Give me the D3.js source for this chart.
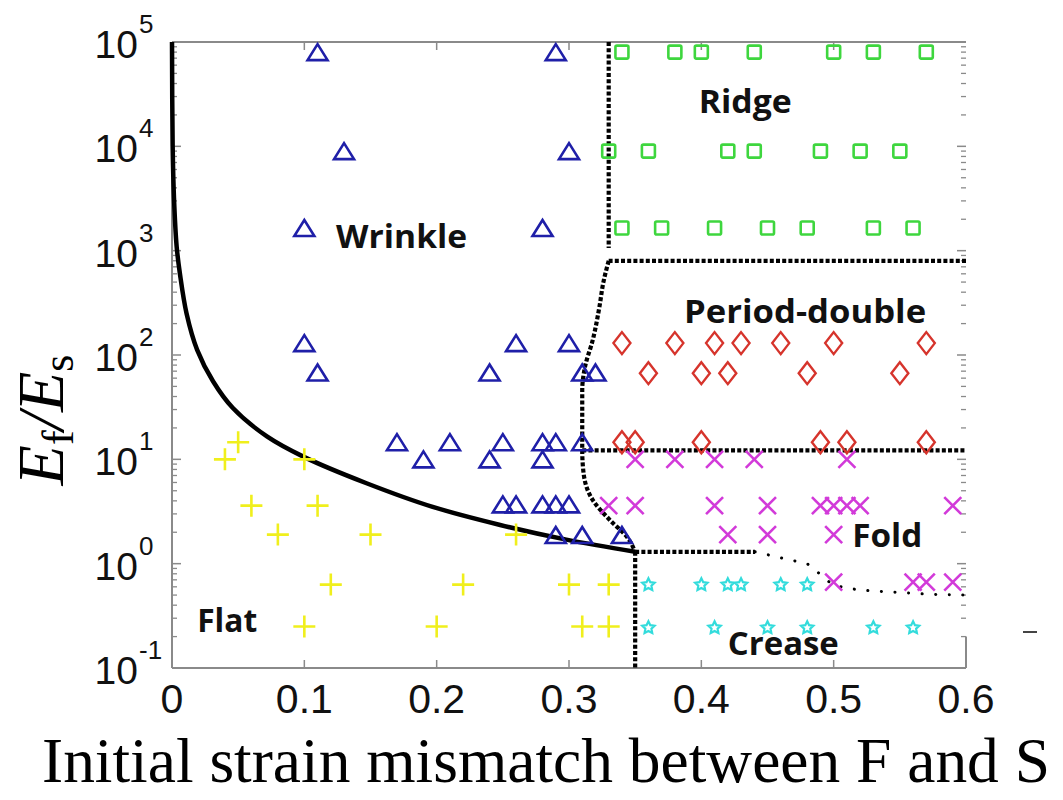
<!DOCTYPE html>
<html>
<head>
<meta charset="utf-8">
<script src="https://cdn.jsdelivr.net/npm/d3@7"></script>
<style>
  html, body { margin: 0; padding: 0; background: #fff; }
  svg { display: block; }
</style>
</head>
<body>
<script>
// ---------------- DATA ----------------
const xTicks = [0, 0.1, 0.2, 0.3, 0.4, 0.5, 0.6];
const xTickLabels = ["0", "0.1", "0.2", "0.3", "0.4", "0.5", "0.6"];
const yTicks = [1e-1, 1e0, 1e1, 1e2, 1e3, 1e4, 1e5];
const yTickExponents = ["-1", "0", "1", "2", "3", "4", "5"];

const xTitle = "Initial strain mismatch between F and S";

// Wrinkle (blue triangles)
const wrinklePts = [
  [0.11, 8e4], [0.29, 8e4],
  [0.13, 9e3], [0.30, 9e3],
  [0.10, 1650], [0.28, 1650],
  [0.10, 130], [0.26, 130], [0.30, 130],
  [0.11, 68], [0.24, 68], [0.31, 68], [0.32, 68],
  [0.17, 14.6], [0.21, 14.6], [0.25, 14.6], [0.28, 14.6], [0.29, 14.6], [0.31, 14.6],
  [0.19, 10], [0.24, 10], [0.28, 10],
  [0.25, 3.7], [0.26, 3.7], [0.28, 3.7], [0.29, 3.7], [0.30, 3.7],
  [0.29, 1.88], [0.31, 1.88], [0.34, 1.88]
];
// Ridge (green squares)
const ridgePts = [
  [0.34, 8e4], [0.38, 8e4], [0.40, 8e4], [0.44, 8e4], [0.50, 8e4], [0.53, 8e4], [0.57, 8e4],
  [0.33, 9e3], [0.36, 9e3], [0.42, 9e3], [0.44, 9e3], [0.49, 9e3], [0.52, 9e3], [0.55, 9e3],
  [0.34, 1650], [0.37, 1650], [0.41, 1650], [0.45, 1650], [0.48, 1650], [0.53, 1650], [0.56, 1650]
];
// Period-double (red diamonds)
const periodPts = [
  [0.34, 130], [0.38, 130], [0.41, 130], [0.43, 130], [0.46, 130], [0.50, 130], [0.57, 130],
  [0.36, 67], [0.40, 67], [0.42, 67], [0.48, 67], [0.55, 67],
  [0.34, 14.6], [0.35, 14.6], [0.40, 14.6], [0.49, 14.6], [0.51, 14.6], [0.57, 14.6]
];
// Flat (yellow plus)
const flatPts = [
  [0.04, 10], [0.05, 14.6], [0.10, 10],
  [0.06, 3.6], [0.11, 3.6],
  [0.08, 1.9], [0.15, 1.9], [0.26, 1.9],
  [0.12, 0.63], [0.22, 0.63], [0.30, 0.63], [0.33, 0.63],
  [0.10, 0.25], [0.20, 0.25], [0.31, 0.25], [0.33, 0.25]
];
// Fold (magenta x)
const foldPts = [
  [0.35, 10], [0.38, 10], [0.41, 10], [0.44, 10], [0.51, 10],
  [0.33, 3.6], [0.35, 3.6], [0.41, 3.6], [0.45, 3.6], [0.49, 3.6], [0.50, 3.6], [0.51, 3.6], [0.52, 3.6], [0.59, 3.6],
  [0.42, 1.9], [0.45, 1.9], [0.50, 1.9],
  [0.50, 0.665], [0.56, 0.665], [0.57, 0.665], [0.59, 0.665]
];
// Crease (cyan stars)
const creasePts = [
  [0.36, 0.635], [0.40, 0.635], [0.42, 0.635], [0.43, 0.635], [0.46, 0.635], [0.48, 0.635],
  [0.36, 0.246], [0.41, 0.246], [0.45, 0.246], [0.48, 0.246], [0.53, 0.246], [0.56, 0.246]
];

// Boundaries
const wrinkleBoundary = [
  [0, 1e5], [0.0005, 1e4], [0.0015, 3200], [0.0035, 1100], [0.006, 600], [0.011, 250],
  [0.019, 112], [0.031, 56], [0.046, 31], [0.072, 16.5], [0.1, 10.5], [0.147, 5.9],
  [0.197, 3.5], [0.248, 2.35], [0.298, 1.7], [0.35, 1.3]
];
const ridgeVertical = [[0.33, 1e5], [0.33, 1060]];
const ridgeHorizontal = [[0.6, 800], [0.33, 800]];
const periodCurve = [
  [0.33, 800], [0.326, 500], [0.323, 290], [0.318, 140], [0.312, 76], [0.310, 46],
  [0.310, 12.2], [0.311, 7.4], [0.318, 4.06], [0.331, 2.61], [0.344, 1.79], [0.35, 1.3]
];
const foldHorizontal = [[0.31, 12.2], [0.6, 12.2]];
const creaseTop = [[0.35, 1.3], [0.4406, 1.3]];
const creaseVertical = [[0.35, 1.3], [0.35, 0.1]];
const creaseSparse = [
  [0.4406, 1.3], [0.461, 1.13], [0.48, 1.0], [0.491, 0.77], [0.4995, 0.62],
  [0.52, 0.557], [0.55, 0.53], [0.5705, 0.51], [0.6, 0.5]
];

// Region labels
const regionNames = ["Wrinkle", "Ridge", "Period-double", "Fold", "Crease", "Flat"];
const regionAnchors = [[0.124, 1060], [0.398, 2.08e4], [0.387, 202], [0.514, 1.44], [0.42, 0.133], [0.019, 0.22]];
const regionWidths = [131, 93, 242, 70, 111, 60];

// ---------------- CHART ----------------
const W = 1063, H = 800;
const svg = d3.select("body").append("svg").attr("width", W).attr("height", H)
  .style("font-family", "'Liberation Sans', Arial, sans-serif");

const x = d3.scaleLinear().domain([0, 0.6]).range([172, 966]);
const y = d3.scaleLog().domain([0.1, 1e5]).range([668, 42]);

const axisColor = "#8a8a8a";

// spines
svg.append("line").attr("x1", x(0)).attr("x2", x(0.6)).attr("y1", y(1e5)).attr("y2", y(1e5))
  .attr("stroke", axisColor).attr("stroke-width", 2);
svg.append("line").attr("x1", x(0)).attr("x2", x(0.6)).attr("y1", y(0.1)).attr("y2", y(0.1))
  .attr("stroke", axisColor).attr("stroke-width", 2);
svg.append("line").attr("x1", x(0)).attr("x2", x(0)).attr("y1", y(1e5)).attr("y2", y(0.1))
  .attr("stroke", axisColor).attr("stroke-width", 2);
svg.append("line").attr("x1", x(0.6)).attr("x2", x(0.6)).attr("y1", y(0.2)).attr("y2", y(0.1))
  .attr("stroke", axisColor).attr("stroke-width", 2);

// x ticks (top and bottom, inward)
const xt = svg.append("g");
xTicks.slice(1, -1).forEach(v => {
  xt.append("line").attr("x1", x(v)).attr("x2", x(v)).attr("y1", y(0.1)).attr("y2", y(0.1) - 8)
    .attr("stroke", axisColor).attr("stroke-width", 1.5);
  xt.append("line").attr("x1", x(v)).attr("x2", x(v)).attr("y1", y(1e5)).attr("y2", y(1e5) + 8)
    .attr("stroke", axisColor).attr("stroke-width", 1.5);
});
xTicks.forEach((v, i) => {
  svg.append("text").attr("x", x(v)).attr("y", 713).attr("text-anchor", "middle")
    .attr("font-size", 41).attr("fill", "#111").text(xTickLabels[i]);
});

// y ticks (left and right, inward), major + minor
const yt = svg.append("g");
yTicks.forEach((v, i) => {
  yt.append("line").attr("x1", x(0)).attr("x2", x(0) + 9).attr("y1", y(v)).attr("y2", y(v))
    .attr("stroke", axisColor).attr("stroke-width", 1.5);
  yt.append("line").attr("x1", x(0.6)).attr("x2", x(0.6) - 9).attr("y1", y(v)).attr("y2", y(v))
    .attr("stroke", axisColor).attr("stroke-width", 1.5);
  if (i < yTicks.length - 1) {
    for (let k = 2; k <= 9; k++) {
      const m = v * k;
      yt.append("line").attr("x1", x(0)).attr("x2", x(0) + 5).attr("y1", y(m)).attr("y2", y(m))
        .attr("stroke", axisColor).attr("stroke-width", 1.3);
      yt.append("line").attr("x1", x(0.6)).attr("x2", x(0.6) - 5).attr("y1", y(m)).attr("y2", y(m))
        .attr("stroke", axisColor).attr("stroke-width", 1.3);
    }
  }
  svg.append("text").attr("x", 138).attr("y", y(v) + 16).attr("text-anchor", "end")
    .attr("font-size", 39).attr("fill", "#111").text("10");
  svg.append("text").attr("x", 139).attr("y", y(v) - 9).attr("text-anchor", "start")
    .attr("font-size", 26).attr("fill", "#111").text(yTickExponents[i]);
});

// stray mark at right
svg.append("line").attr("x1", 1023).attr("x2", 1037).attr("y1", 632).attr("y2", 632)
  .attr("stroke", "#444").attr("stroke-width", 2);

// boundaries
const line = d3.line().x(d => x(d[0])).y(d => y(d[1]));
const bg = svg.append("g").attr("fill", "none");
const dense = (data, curve) => bg.append("path")
  .attr("d", (curve ? d3.line().x(d => x(d[0])).y(d => y(d[1])).curve(curve) : line)(data))
  .attr("stroke", "#000").attr("stroke-width", 4.2).attr("stroke-dasharray", "4 2.2");

dense(ridgeVertical);
dense(ridgeHorizontal);
dense(periodCurve, d3.curveMonotoneY);
dense(foldHorizontal);
dense(creaseTop);
dense(creaseVertical);
bg.append("path").attr("d", line(creaseSparse))
  .attr("stroke", "#000").attr("stroke-width", 3).attr("stroke-linecap", "round")
  .attr("stroke-dasharray", "0.1 13.5");

bg.append("path")
  .attr("d", d3.line().x(d => x(d[0])).y(d => y(d[1])).curve(d3.curveCatmullRom.alpha(0.5))(wrinkleBoundary))
  .attr("stroke", "#000").attr("stroke-width", 4.5);

// markers
const mg = svg.append("g").attr("fill", "none");
const tri = "M-10,8L0,-8L10,8Z";
mg.selectAll(".tri").data(wrinklePts).join("path")
  .attr("d", tri).attr("transform", d => `translate(${x(d[0])},${y(d[1])})`)
  .attr("stroke", "#1f1fa8").attr("stroke-width", 2.6).attr("stroke-linejoin", "miter");
mg.selectAll(".sq").data(ridgePts).join("rect")
  .attr("x", d => x(d[0]) - 6.5).attr("y", d => y(d[1]) - 6.5).attr("width", 13).attr("height", 13)
  .attr("rx", 1.5)
  .attr("stroke", "#3ed63e").attr("stroke-width", 2.6);
mg.selectAll(".dia").data(periodPts).join("path")
  .attr("d", "M0,-11L8.5,0L0,11L-8.5,0Z").attr("transform", d => `translate(${x(d[0])},${y(d[1])})`)
  .attr("stroke", "#d6342c").attr("stroke-width", 2.4);
mg.selectAll(".plus").data(flatPts).join("path")
  .attr("d", "M-11,0L11,0M0,-11L0,11").attr("transform", d => `translate(${x(d[0])},${y(d[1])})`)
  .attr("stroke", "#f0ef1c").attr("stroke-width", 2.6);
mg.selectAll(".xx").data(foldPts).join("path")
  .attr("d", "M-8.5,-8.5L8.5,8.5M-8.5,8.5L8.5,-8.5").attr("transform", d => `translate(${x(d[0])},${y(d[1])})`)
  .attr("stroke", "#d23ad9").attr("stroke-width", 2.6);
const starPath = (() => {
  const pts = [];
  for (let i = 0; i < 10; i++) {
    const r = i % 2 === 0 ? 6.5 : 3.2;
    const a = -Math.PI / 2 + i * Math.PI / 5;
    pts.push([r * Math.cos(a), r * Math.sin(a) + 0.5]);
  }
  return "M" + pts.map(p => p.join(",")).join("L") + "Z";
})();
mg.selectAll(".star").data(creasePts).join("path")
  .attr("d", starPath).attr("transform", d => `translate(${x(d[0])},${y(d[1])})`)
  .attr("stroke", "#33dcdc").attr("stroke-width", 2.2);

// region labels
regionNames.forEach((name, i) => {
  svg.append("text").attr("x", x(regionAnchors[i][0])).attr("y", y(regionAnchors[i][1]))
    .attr("font-family", "'Open Sans', 'Noto Sans', sans-serif").attr("font-weight", "bold")
    .attr("font-size", 32).attr("fill", "#111")
    .attr("textLength", regionWidths[i]).attr("lengthAdjust", "spacingAndGlyphs")
    .text(name);
});

// axis titles
svg.append("text").attr("x", 42).attr("y", 782)
  .attr("font-family", "'Liberation Serif', 'Times New Roman', serif").attr("font-size", 64)
  .attr("fill", "#000").attr("textLength", 1008).attr("lengthAdjust", "spacingAndGlyphs")
  .text(xTitle);

const yt2 = svg.append("text").attr("transform", "translate(63,420) rotate(-90)")
  .attr("text-anchor", "middle")
  .attr("font-family", "'Liberation Serif', 'Times New Roman', serif").attr("font-size", 66)
  .attr("fill", "#000");
yt2.append("tspan").attr("font-style", "italic").text("E");
yt2.append("tspan").attr("font-size", 44).attr("dy", 10).text("f");
yt2.append("tspan").attr("font-style", "italic").attr("dy", -10).text("/");
yt2.append("tspan").attr("font-style", "italic").text("E");
yt2.append("tspan").attr("font-size", 44).attr("dy", 10).text("s");
</script>
</body>
</html>
